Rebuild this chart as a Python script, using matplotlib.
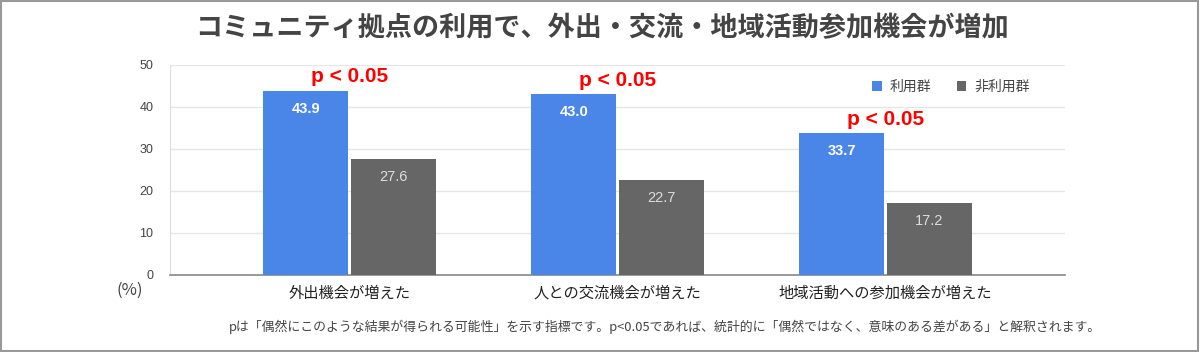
import matplotlib
matplotlib.use("Agg")
import matplotlib.pyplot as plt
import numpy as np
from matplotlib.patches import Rectangle

plt.rcParams['font.family'] = ['Noto Sans CJK JP', 'DejaVu Sans']

categories = ["外出機会が増えた", "人との交流機会が増えた", "地域活動への参加機会が増えた"]
users = [43.9, 43.0, 33.7]
nonusers = [27.6, 22.7, 17.2]
series_names = ["利用群", "非利用群"]
sig_labels = ["p < 0.05", "p < 0.05", "p < 0.05"]
yticks = [0, 10, 20, 30, 40, 50]
title = "コミュニティ拠点の利用で、外出・交流・地域活動参加機会が増加"
footnote = "pは「偶然にこのような結果が得られる可能性」を示す指標です。p<0.05であれば、統計的に「偶然ではなく、意味のある差がある」と解釈されます。"

blue = "#4a86e8"
gray = "#666666"
latin = "Liberation Sans"

fig = plt.figure(figsize=(12, 3.52), dpi=100)
fig.patches.append(Rectangle((0.001, 0.003), 0.997, 0.994, transform=fig.transFigure,
                             fill=False, edgecolor="#999999", linewidth=1.5))

ax = fig.add_axes([0.1417, 0.2188, 0.7458, 0.5966])
x = np.arange(len(categories))
w = 0.317
gap = 0.005
b1 = ax.bar(x - w / 2 - gap, users, width=w, color=blue, label=series_names[0], zorder=3)
b2 = ax.bar(x + w / 2 + gap, nonusers, width=w, color=gray, label=series_names[1], zorder=3)

for rect, v in zip(b1, users):
    ax.annotate(f"{v:.1f}", (rect.get_x() + rect.get_width() / 2, v), xytext=(0, -13),
                textcoords="offset points", ha="center", va="center", color="white",
                fontsize=10.5, fontweight="bold", family=latin)
for rect, v in zip(b2, nonusers):
    ax.annotate(f"{v:.1f}", (rect.get_x() + rect.get_width() / 2, v), xytext=(0, -13),
                textcoords="offset points", ha="center", va="center", color="#dddddd",
                fontsize=10.5, family=latin)
for xi, v, s in zip(x, users, sig_labels):
    ax.annotate(s, (xi, v), xytext=(0, 10),
                textcoords="offset points", ha="center", va="center", color="#ff0000",
                fontsize=15, fontweight="bold", family=latin)

ax.set_ylim(0, 50)
ax.set_xlim(-0.67, 2.67)
ax.set_yticks(yticks)
ax.set_yticklabels([str(t) for t in yticks], fontsize=9, color="#444444", family=latin)
ax.set_xticks(x)
ax.set_xticklabels(categories, fontsize=11, color="#222222")
ax.tick_params(axis="both", length=0)
ax.tick_params(axis="y", pad=12)
ax.tick_params(axis="x", pad=7)
ax.grid(axis="y", color="#e6e6e6", linewidth=1, zorder=0)
for s in ["top", "right"]:
    ax.spines[s].set_visible(False)
ax.spines["left"].set_color("#dddddd")
ax.spines["bottom"].set_color("#888888")
ax.spines["bottom"].set_linewidth(1.2)

leg = ax.legend(loc="upper right", bbox_to_anchor=(0.975, 0.99), ncol=2, frameon=False,
                fontsize=10, handlelength=0.7, handleheight=0.7, columnspacing=1.8,
                handletextpad=0.6)
for t in leg.get_texts():
    t.set_color("#444444")

fig.text(0.502, 0.92, title, ha="center", va="center", fontsize=19.5, fontweight="bold", color="#444444")
fig.text(0.097, 0.175, "(%)", ha="left", va="center", fontsize=12, color="#444444")
fig.text(0.554, 0.072, footnote, ha="center", va="center", fontsize=9.3, color="#444444")

fig.savefig("out.png", dpi=100)
